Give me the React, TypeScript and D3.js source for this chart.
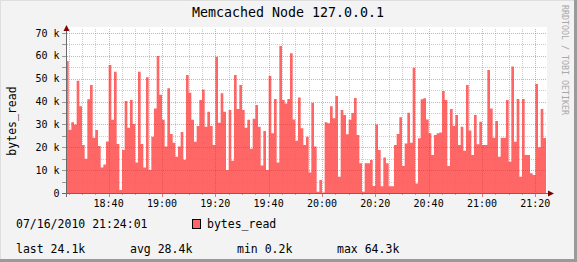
import React from "react";
import * as d3 from "d3";

const TITLE = "Memcached Node 127.0.0.1";
const Y_LABEL = "bytes_read";
const WATERMARK = "RRDTOOL / TOBI OETIKER";
const SERIES_NAME = "bytes_read";
const DATE_LABEL = "07/16/2010 21:24:01";
const STATS = ["last 24.1k", "avg 28.4k", "min 0.2k", "max 64.3k"];

// one value per minute, in k bytes, starting 18:24:01
const bytesRead: number[] = [
  57.7, 27.6, 31.0, 30.0, 49.1, 38.0, 21.0, 15.0, 41.0, 47.2,
  24.2, 27.6, 20.6, 11.2, 12.5, 22.5, 56.0, 32.0, 53.0, 21.4,
  1.3, 18.8, 40.2, 28.6, 40.7, 30.2, 13.3, 53.1, 21.4, 11.2,
  50.6, 10.1, 24.6, 37.0, 59.9, 43.0, 32.0, 20.3, 45.8, 25.8,
  22.0, 15.9, 20.3, 26.7, 14.6, 51.6, 43.9, 32.0, 22.4, 29.3,
  40.7, 45.3, 29.0, 35.6, 29.3, 21.0, 59.6, 30.7, 43.6, 35.6,
  10.1, 36.3, 14.1, 51.6, 36.7, 47.2, 36.3, 28.6, 32.0, 19.4,
  32.5, 38.5, 29.0, 12.0, 27.1, 10.1, 51.2, 26.1, 41.1, 13.3,
  64.3, 40.7, 39.2, 41.1, 61.1, 32.2, 22.9, 41.8, 28.3, 21.0,
  24.6, 9.0, 39.5, 20.3, 0.6, 5.7, 0.2, 31.0, 30.5, 38.0,
  32.7, 42.4, 7.1, 36.3, 34.1, 25.7, 32.0, 35.0, 41.6, 25.4,
  13.0, 0.6, 13.0, 13.0, 14.4, 3.1, 30.0, 18.8, 3.0, 15.5,
  13.0, 3.0, 3.0, 21.0, 25.8, 33.1, 11.8, 21.7, 35.1, 22.0,
  54.8, 4.2, 23.9, 41.0, 41.4, 32.2, 26.1, 16.6, 25.4, 26.1,
  26.5, 44.6, 40.7, 11.8, 36.7, 29.3, 34.1, 21.0, 29.0, 18.5,
  47.2, 27.3, 16.6, 34.1, 21.3, 31.2, 21.0, 21.0, 53.8, 37.0,
  24.2, 31.5, 15.9, 24.2, 24.2, 40.7, 13.7, 55.3, 22.4, 41.1,
  7.1, 41.1, 16.6, 16.6, 8.6, 7.9, 47.7, 20.0, 36.7, 24.1,
];

const yTickValues = [0, 10000, 20000, 30000, 40000, 50000, 60000, 70000];
const yTickLabels = ["0", "10 k", "20 k", "30 k", "40 k", "50 k", "60 k", "70 k"];

const W = 577;
const H = 262;
const MONO = "'DejaVu Sans Mono', monospace";

export default function App() {
  const start = new Date(2010, 6, 16, 18, 24, 1);
  const end = d3.timeMinute.offset(start, bytesRead.length);
  const x = d3.scaleTime().domain([start, end]).range([66, 546]);
  const y = d3.scaleLinear().domain([0, 70000]).range([193, 33]);

  const pts = bytesRead.map((v, i) => ({ t: d3.timeMinute.offset(start, i), v: v * 1000 }));
  pts.push({ t: end, v: bytesRead[bytesRead.length - 1] * 1000 });

  const area = d3
    .area<{ t: Date; v: number }>()
    .x((d) => x(d.t))
    .y0(y(0))
    .y1((d) => y(d.v))
    .curve(d3.curveStepAfter);

  const minor = d3.timeMinute.every(5)!.range(start, end);
  const major = d3.timeMinute.every(20)!.range(start, end);
  const majorSet = new Set(major.map((d) => +d));
  const yMinor = d3.range(5000, 75000, 5000);

  const fmt = d3.timeFormat("%H:%M");
  const statX = [16, 130, 237, 337];

  return (
    <svg
      width={W}
      height={H}
      style={{ position: "fixed", left: 0, top: 0 }}
      xmlns="http://www.w3.org/2000/svg"
    >
      <rect x={0} y={0} width={W} height={H} fill="#f3f3f3" />
      {/* frame */}
      <line x1={0} y1={0.5} x2={W} y2={0.5} stroke="#dedede" strokeWidth={1} />
      <line x1={0.5} y1={0} x2={0.5} y2={H} stroke="#dedede" strokeWidth={1} />
      <line x1={0} y1={H - 1.5} x2={W} y2={H - 1.5} stroke="#9a9a9a" strokeWidth={3} />
      <line x1={W - 1.5} y1={0} x2={W - 1.5} y2={H} stroke="#9a9a9a" strokeWidth={3} />

      {/* canvas */}
      <rect x={66} y={27} width={481} height={166} fill="#ffffff" />

      <path d={area(pts) ?? ""} fill="#ff6666" />

      {/* horizontal grid */}
      {yMinor.map((v) => {
        const yy = Math.round(y(v)) + 0.5;
        const isMajor = v % 10000 === 0;
        return (
          <line
            key={"h" + v}
            x1={67}
            x2={546}
            y1={yy}
            y2={yy}
            stroke={isMajor ? "rgba(200,60,60,0.45)" : "rgba(140,140,140,0.45)"}
            strokeDasharray="1 1"
          />
        );
      })}
      {/* vertical grid */}
      {minor.map((t) => {
        const xx = Math.round(x(t)) + 0.5;
        const isMajor = majorSet.has(+t);
        return (
          <line
            key={"v" + +t}
            x1={xx}
            x2={xx}
            y1={29}
            y2={193}
            stroke={isMajor ? "rgba(200,60,60,0.45)" : "rgba(140,140,140,0.45)"}
            strokeDasharray="1 1"
          />
        );
      })}

      {/* y ticks */}
      {yMinor.concat([0]).map((v) => {
        const yy = Math.round(y(v)) + 0.5;
        return <line key={"yt" + v} x1={62} x2={66} y1={yy} y2={yy} stroke="#999" />;
      })}
      {/* x ticks */}
      {minor.map((t) => {
        const xx = Math.round(x(t)) + 0.5;
        const isMajor = majorSet.has(+t);
        return (
          <line
            key={"xt" + +t}
            x1={xx}
            x2={xx}
            y1={193}
            y2={isMajor ? 197 : 195}
            stroke={isMajor ? "#d08080" : "#aaa"}
          />
        );
      })}

      {/* axes */}
      <line x1={62} x2={550} y1={193.5} y2={193.5} stroke="#6a6a6a" />
      <line x1={66.5} x2={66.5} y1={197} y2={30} stroke="#6a6a6a" />
      <path d="M548,190.5 L554,193.5 L548,196.5 Z" fill="#7f0000" />
      <path d="M63.5,31 L66.5,25 L69.5,31 Z" fill="#7f0000" />

      {/* y labels */}
      {yTickValues.map((v, i) => (
        <text
          key={"yl" + v}
          x={59.5}
          y={y(v) + 3.6}
          textAnchor="end"
          fontFamily={MONO}
          fontSize={10}
          fill="#000"
        >
          {yTickLabels[i]}
        </text>
      ))}
      {/* x labels */}
      {major.map((t) => (
        <text
          key={"xl" + +t}
          x={x(t)}
          y={206.5}
          textAnchor="middle"
          fontFamily={MONO}
          fontSize={10}
          fill="#000"
        >
          {fmt(t)}
        </text>
      ))}

      {/* title */}
      <text x={288} y={17} textAnchor="middle" fontFamily={MONO} fontSize={13.3} fill="#000">
        {TITLE}
      </text>
      {/* y axis title */}
      <text
        transform="translate(16,121) rotate(-90)"
        textAnchor="middle"
        fontFamily={MONO}
        fontSize={11.5}
        fill="#000"
      >
        {Y_LABEL}
      </text>
      {/* watermark */}
      <text
        transform="translate(562,5) rotate(90)"
        textAnchor="start"
        fontFamily={MONO}
        fontSize={8.3}
        fill="#a8a8a8"
      >
        {WATERMARK}
      </text>

      {/* legend */}
      <text x={16} y={228} fontFamily={MONO} fontSize={11.5} fill="#000">
        {DATE_LABEL}
      </text>
      <rect x={192.5} y={219.5} width={8} height={9} fill="#ff6666" stroke="#000" />
      <text x={207} y={228} fontFamily={MONO} fontSize={11.5} fill="#000">
        {SERIES_NAME}
      </text>
      {STATS.map((s, i) => (
        <text key={s} x={statX[i]} y={252.5} fontFamily={MONO} fontSize={11.5} fill="#000">
          {s}
        </text>
      ))}
    </svg>
  );
}
